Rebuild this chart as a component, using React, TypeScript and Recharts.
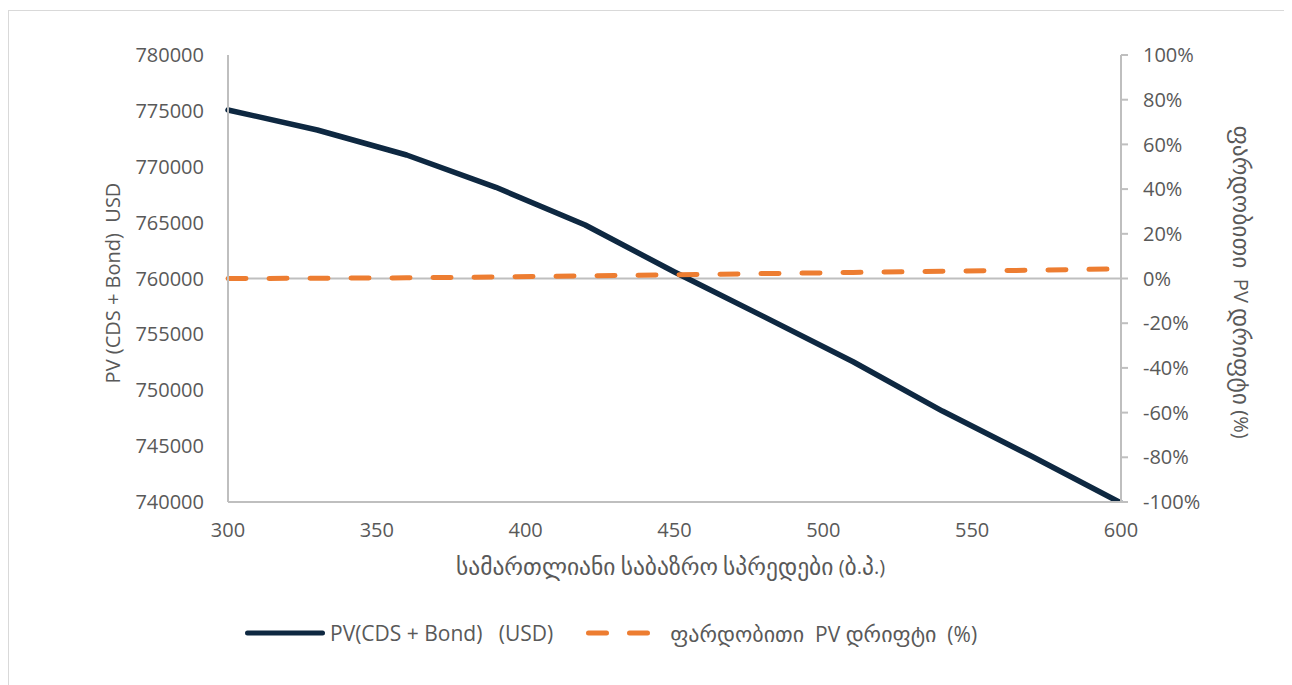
import { LineChart, Line, XAxis, YAxis, ReferenceLine, Legend } from "recharts";

// fair market spreads (bp) and the two series read per spread
const spreads = [300, 330, 360, 390, 420, 450, 480, 510, 540, 570, 600];
const pvUsd = [775080, 773290, 771050, 768160, 764790, 760580, 756590, 752550, 748140, 744090, 739910];
const driftPct = [0, 0.1, 0.3, 0.7, 1.2, 1.7, 2.2, 2.7, 3.2, 3.7, 4.3];

const xTicks = [300, 350, 400, 450, 500, 550, 600];
const pvTicks = [740000, 745000, 750000, 755000, 760000, 765000, 770000, 775000, 780000];
const pctTicks = [-100, -80, -60, -40, -20, 0, 20, 40, 60, 80, 100];

const xTitle = "სამართლიანი საბაზრო სპრედები (ბ.პ.)";
const pvTitle = "PV (CDS + Bond)\u00a0 USD";
const driftTitle = "ფარდობითი\u00a0 PV დრიფტი (%)";
const pvName = "PV(CDS + Bond)\u00a0\u00a0 (USD)";
const driftName = "ფარდობითი\u00a0 PV დრიფტი\u00a0 (%)";

const data = spreads.map((s, i) => ({ s, pv: pvUsd[i], drift: driftPct[i] }));

const FONT = '"Open Sans", "DejaVu Sans", sans-serif';
const TEXT = "#595959";
const GRID = "#bfbfbf";
const NAVY = "#0e2841";
const ORANGE = "#ed7d31";
const GEO_SIZE = 23.5; // the Georgian fallback face runs small, bump it up

const tickStyle = { fill: TEXT, fontSize: 20, fontFamily: FONT };

// split text into Georgian / non-Georgian runs so each can get its own size
const splitGeo = (s: string) => s.split(/([\u10A0-\u10FF]+)/).filter((r) => r.length);
const isGeo = (r: string) => /[\u10A0-\u10FF]/.test(r);

const SvgRuns = ({ text, size }: { text: string; size: number }) => (
  <>
    {splitGeo(text).map((r, i) => (
      <tspan key={i} fontSize={isGeo(r) ? GEO_SIZE : size}>{r}</tspan>
    ))}
  </>
);

const LegendBox = ({ payload }: any) => (
  <div style={{ display: "flex", alignItems: "center", fontSize: 21, color: TEXT, fontFamily: FONT, whiteSpace: "pre" }}>
    {(payload || []).map((p: any, i: number) => {
      const dashed = p.payload?.strokeDasharray;
      const w = dashed ? 64 : 80;
      return (
        <div key={i} style={{ display: "flex", alignItems: "center", marginLeft: i ? 33 : 0 }}>
          <svg width={w} height={10}>
            <line x1={2.5} y1={5} x2={w - 2.5} y2={5} stroke={p.color} strokeWidth={5}
              strokeLinecap="round" strokeDasharray={dashed} />
          </svg>
          <span style={{ marginLeft: dashed ? 20 : 5 }}>
            {splitGeo(String(p.value)).map((r, k) => (
              <span key={k} style={{ fontSize: isGeo(r) ? 22 : 21 }}>{r}</span>
            ))}
          </span>
        </div>
      );
    })}
  </div>
);

export default function App() {
  return (
    <div style={{ marginTop: 2, width: 1276, height: 690, border: "1px solid #d9d9d9", borderBottom: "none", background: "#fff" }}>
      <LineChart width={1275} height={676} data={data} margin={{ top: 44, right: 0, bottom: 105, left: 0 }}
        style={{ fontFamily: FONT }}>
        <XAxis dataKey="s" type="number" domain={[300, 600]} ticks={xTicks} interval={0}
          height={80} tickLine={false} tickSize={6} tickMargin={15} tick={tickStyle}
          axisLine={{ stroke: GRID, strokeWidth: 2 }}
          label={{
            content: ({ viewBox }: any) => (
              <text x={viewBox.x + viewBox.width / 2 - 4} y={viewBox.y + 64} textAnchor="middle"
                dominantBaseline="central" fill={TEXT} fontSize={20} fontFamily={FONT}>
                <SvgRuns text={xTitle} size={20} />
              </text>
            ),
          }} />
        <YAxis yAxisId="pv" domain={[740000, 780000]} ticks={pvTicks} interval={0} width={219}
          tickLine={false} tickSize={6} tickMargin={18} tick={tickStyle}
          axisLine={{ stroke: GRID, strokeWidth: 2 }} allowDataOverflow
          label={{
            content: ({ viewBox }: any) => {
              const cx = viewBox.x + 103, cy = 272;
              return (
                <text x={cx} y={cy} textAnchor="middle" dominantBaseline="central" fill={TEXT}
                  fontSize={20} fontFamily={FONT} transform={`rotate(-90 ${cx} ${cy})`}>{pvTitle}</text>
              );
            },
          }} />
        <YAxis yAxisId="pct" orientation="right" domain={[-100, 100]} ticks={pctTicks} interval={0} width={163}
          tickFormatter={(v: number) => `${v}%`} tickSize={7} tickMargin={15} tick={tickStyle}
          tickLine={{ stroke: GRID, strokeWidth: 2 }} axisLine={{ stroke: GRID, strokeWidth: 2 }}
          label={{
            content: ({ viewBox }: any) => {
              const cx = viewBox.x + 121, cy = 271;
              return (
                <text x={cx} y={cy} textAnchor="middle" dominantBaseline="central" fill={TEXT}
                  fontSize={20} fontFamily={FONT} transform={`rotate(90 ${cx} ${cy})`}>
                  <SvgRuns text={driftTitle} size={20} />
                </text>
              );
            },
          }} />
        <ReferenceLine yAxisId="pv" y={760000} stroke={GRID} strokeWidth={2} />
        <Line yAxisId="pv" type="linear" dataKey="pv" name={pvName} stroke={NAVY} strokeWidth={5.5}
          strokeLinecap="round" strokeLinejoin="round" dot={false} activeDot={false} isAnimationActive={false} />
        <Line yAxisId="pct" type="linear" dataKey="drift" name={driftName} stroke={ORANGE} strokeWidth={5}
          strokeDasharray="18 23" strokeLinecap="round" dot={false} activeDot={false} isAnimationActive={false} />
        <Legend layout="horizontal" verticalAlign="middle" content={<LegendBox />}
          wrapperStyle={{ top: 607, left: 236, width: "auto" }} />
      </LineChart>
    </div>
  );
}
